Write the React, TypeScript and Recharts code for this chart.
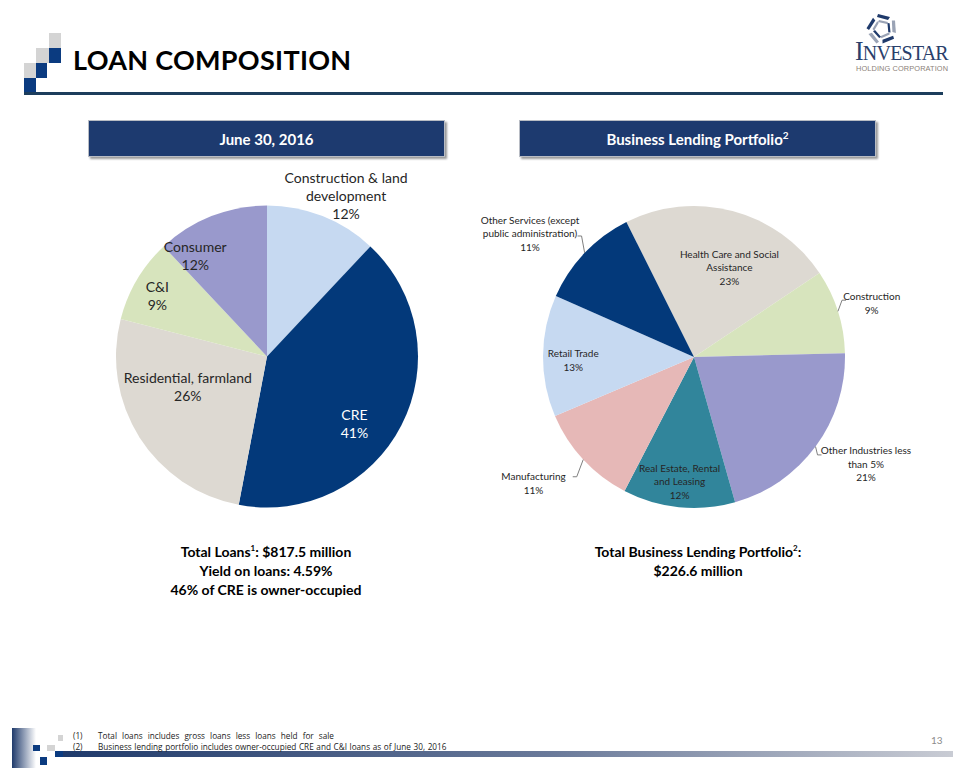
import React from "react";
import { PieChart, Pie, Cell } from "recharts";

// left pie: total loans by type, June 30, 2016
const loanCategories = ["Construction & land development", "CRE", "Residential, farmland", "C&I", "Consumer"];
const loanShares = [12, 41, 26, 9, 12];
const loanLabelLines = [["Construction & land", "development"], ["CRE"], ["Residential, farmland"], ["C&I"], ["Consumer"]];

// right pie: business lending portfolio by industry
const bizCategories = [
  "Health Care and Social Assistance",
  "Construction",
  "Other Industries less than 5%",
  "Real Estate, Rental and Leasing",
  "Manufacturing",
  "Retail Trade",
  "Other Services (except public administration)",
];
const bizShares = [23, 9, 21, 12, 11, 13, 11];
const bizLabelLines = [
  ["Health Care and Social", "Assistance"],
  ["Construction"],
  ["Other Industries less", "than 5%"],
  ["Real Estate, Rental", "and Leasing"],
  ["Manufacturing"],
  ["Retail Trade"],
  ["Other Services (except", "public administration)"],
];

const footnotes = [
  "Total loans includes gross loans less loans held for sale",
  "Business lending portfolio includes owner-occupied CRE and C&I loans as of June 30, 2016",
];

const loanData = loanCategories.map((name, i) => ({ name, value: loanShares[i] }));
const bizData = bizCategories.map((name, i) => ({ name, value: bizShares[i] }));

const NAVY = "#03397a";
const LOAN_COLORS = ["#c6d9f1", NAVY, "#ddd9d2", "#d7e4bd", "#9999cc"];
const LOAN_TEXT = ["#262626", "#ffffff", "#262626", "#262626", "#262626"];
const BIZ_COLORS = ["#ddd9d2", "#d7e4bd", "#9999cc", "#31859b", "#e6b8b7", "#c6d9f1", NAVY];

// label placement: [angle offset from slice middle, radius factor]
const loanPlace = [[-4.5, 1.19], [-10.5, 0.73], [-11.9, 0.56], [1.6, 0.83], [13.8, 0.82]];
const bizPlace = [[-6.7, 0.64], [-0.7, 1.23], [4.6, 1.34], [-0.8, 0.83], [-4.7, 1.35], [1.8, 0.8], [6.6, 1.36]];
// leader line ends for outside labels: [angle offset, radius factor]
const bizLeader: (number[] | null)[] = [null, [3.4, 1.05], [-2, 1.044], null, [2.8, 1.11], null, [-3.5, 1.094]];

const RAD = Math.PI / 180;
const FONT = "Lato, 'Open Sans', sans-serif";
const NO_MARGIN = { top: 0, right: 0, bottom: 0, left: 0 };

function makeLabel(
  lines: string[][],
  shares: number[],
  place: number[][],
  textColors: string[],
  fontSize: number,
  lineH: number,
  leaders?: (number[] | null)[]
) {
  return (props: any) => {
    const { cx, cy, midAngle, outerRadius, index } = props;
    const [dA, rf] = place[index];
    const a = (midAngle + dA) * RAD;
    const x = cx + outerRadius * rf * Math.cos(a);
    const y = cy - outerRadius * rf * Math.sin(a);
    const all = [...lines[index], `${shares[index]}%`];
    const y0 = y - ((all.length - 1) * lineH) / 2;
    let leader = null;
    const ld = leaders ? leaders[index] : null;
    if (ld) {
      const m = midAngle * RAD;
      const x1 = cx + outerRadius * Math.cos(m);
      const y1 = cy - outerRadius * Math.sin(m);
      const b = (midAngle + ld[0]) * RAD;
      const x2 = cx + outerRadius * ld[1] * Math.cos(b);
      const y2 = cy - outerRadius * ld[1] * Math.sin(b);
      const dir = Math.cos(m) > 0 ? 4 : -4;
      leader = (
        <polyline
          points={`${x1},${y1} ${x2},${y2} ${x2 + dir},${y2}`}
          fill="none"
          stroke="#7f7f7f"
          strokeWidth={1}
        />
      );
    }
    return (
      <g>
        {leader}
        {all.map((t, k) => (
          <text
            key={k}
            x={x}
            y={y0 + k * lineH}
            textAnchor="middle"
            dominantBaseline="central"
            fill={textColors[index] || "#262626"}
            fontSize={fontSize}
            fontFamily={FONT}
          >
            {t}
          </text>
        ))}
      </g>
    );
  };
}

const loanLabel = makeLabel(loanLabelLines, loanShares, loanPlace, LOAN_TEXT, 14, 18);
const bizLabel = makeLabel(bizLabelLines, bizShares, bizPlace, [], 10, 13.5, bizLeader);

function HeaderBox({ left, children }: { left: number; children: React.ReactNode }) {
  return (
    <div
      style={{
        position: "absolute",
        left,
        top: 120,
        width: 355,
        height: 35,
        background: "#1d3a6f",
        border: "1px solid #b8bcc4",
        boxShadow: "2px 2px 2px #9a9a9a",
        color: "#fff",
        fontWeight: 700,
        fontSize: 15,
        fontFamily: FONT,
        display: "flex",
        alignItems: "center",
        justifyContent: "center",
      }}
    >
      {children}
    </div>
  );
}

function Sq({ x, y, w, h, c }: { x: number; y: number; w: number; h: number; c: string }) {
  return <div style={{ position: "absolute", left: x, top: y, width: w, height: h, background: c }} />;
}

export default function App() {
  return (
    <div
      style={{
        position: "absolute",
        left: 0,
        top: 0,
        width: 960,
        height: 768,
        background: "#fff",
        fontFamily: FONT,
        overflow: "hidden",
      }}
    >
      {/* top-left squares */}
      <Sq x={49} y={33} w={12} h={15} c="#d4d4d4" />
      <Sq x={49} y={48} w={12} h={15} c="#0b3b80" />
      <Sq x={36} y={48} w={13} h={15} c="#d4d4d4" />
      <Sq x={36} y={63} w={11} h={15} c="#0b3b80" />
      <Sq x={24} y={63} w={12} h={15} c="#d4d4d4" />
      <Sq x={24} y={78} w={12} h={15} c="#0b3b80" />

      <div
        style={{
          position: "absolute",
          left: 73,
          top: 43,
          fontSize: 27,
          fontWeight: 700,
          color: "#000",
          letterSpacing: 0.3,
        }}
      >
        LOAN COMPOSITION
      </div>
      <div style={{ position: "absolute", left: 24, top: 92, width: 919, height: 3, background: "#1c3d5c" }} />

      {/* logo */}
      <svg style={{ position: "absolute", left: 864, top: 12 }} width={36} height={34} viewBox="-18 -17 36 34">
        {[0, 72, 144, 216, 288].map((r, i) => (
          <g key={i} transform={`rotate(${r})`}>
            <path d="M-4,-15 L8,-12 L6,-9 L-5,-12 Z" fill={i % 2 ? "#9aa3b5" : "#1f3a6b"} />
            <path d="M-3,-9 L6,-7 L5,-5 L-4,-7 Z" fill={i % 2 ? "#1f3a6b" : "#9aa3b5"} />
          </g>
        ))}
      </svg>
      <div
        style={{
          position: "absolute",
          left: 855,
          top: 39,
          fontFamily: "'Liberation Serif', serif",
          color: "#2a3f6b",
          fontSize: 26,
          letterSpacing: -0.8,
          lineHeight: "22px",
          height: 22,
          transform: "scale(1, 1.08)",
          transformOrigin: "left top",
        }}
      >
        I<span style={{ fontSize: 20 }}>NVESTAR</span>
      </div>
      <div
        style={{
          position: "absolute",
          left: 856,
          top: 64,
          fontFamily: "'Liberation Sans Narrow', 'Liberation Sans', sans-serif",
          color: "#8c8178",
          fontSize: 7.4,
          lineHeight: "9px",
          letterSpacing: 0.1,
        }}
      >
        HOLDING CORPORATION
      </div>

      <HeaderBox left={88}>June 30, 2016</HeaderBox>
      <HeaderBox left={519}>
        <span>
          Business Lending Portfolio<sup style={{ fontSize: 10 }}>2</sup>
        </span>
      </HeaderBox>

      <div style={{ position: "absolute", left: 67, top: 146 }}>
        <PieChart width={400} height={420} margin={NO_MARGIN}>
          <Pie
            data={loanData}
            dataKey="value"
            nameKey="name"
            cx={200}
            cy={210.5}
            outerRadius={151}
            startAngle={90}
            endAngle={-270}
            stroke="none"
            isAnimationActive={false}
            label={loanLabel}
            labelLine={false}
          >
            {loanData.map((d, i) => (
              <Cell key={d.name} fill={LOAN_COLORS[i]} />
            ))}
          </Pie>
        </PieChart>
      </div>

      <div style={{ position: "absolute", left: 463.5, top: 147 }}>
        <PieChart width={460} height={420} margin={NO_MARGIN}>
          <Pie
            data={bizData}
            dataKey="value"
            nameKey="name"
            cx={230}
            cy={210}
            outerRadius={151}
            startAngle={116.6}
            endAngle={-243.4}
            stroke="none"
            isAnimationActive={false}
            label={bizLabel}
            labelLine={false}
          >
            {bizData.map((d, i) => (
              <Cell key={d.name} fill={BIZ_COLORS[i]} />
            ))}
          </Pie>
        </PieChart>
      </div>

      <div
        style={{
          position: "absolute",
          left: 116,
          top: 539,
          width: 300,
          textAlign: "center",
          fontSize: 14,
          fontWeight: 700,
          lineHeight: "19px",
          color: "#000",
        }}
      >
        <div>
          Total Loans<sup style={{ fontSize: 8 }}>1</sup>: $817.5 million
        </div>
        <div>Yield on loans: 4.59%</div>
        <div>46% of CRE is owner-occupied</div>
      </div>
      <div
        style={{
          position: "absolute",
          left: 518,
          top: 539,
          width: 360,
          textAlign: "center",
          fontSize: 14,
          fontWeight: 700,
          lineHeight: "19px",
          color: "#000",
        }}
      >
        <div>
          Total Business Lending Portfolio<sup style={{ fontSize: 8 }}>2</sup>:
        </div>
        <div>$226.6 million</div>
      </div>

      {/* footer */}
      <div
        style={{
          position: "absolute",
          left: 12,
          top: 728,
          width: 24,
          height: 40,
          background: "linear-gradient(to right, #1f3a6b, #ffffff)",
        }}
      />
      <Sq x={33} y={745} w={7} h={6} c="#0b3b80" />
      <Sq x={47} y={745} w={8} h={6} c="#d4d4d4" />
      <Sq x={58} y={735} w={5} h={6} c="#d4d4d4" />
      <Sq x={55} y={751} w={8} h={6} c="#0b3b80" />
      <Sq x={40} y={757} w={7} h={8} c="#0b3b80" />
      <div
        style={{
          position: "absolute",
          left: 63,
          top: 751,
          width: 890,
          height: 6,
          background: "linear-gradient(to right, #1f3a6b 0%, #6a7a9a 55%, #c9ccd4 100%)",
        }}
      />
      {footnotes.map((f, i) => (
        <div
          key={i}
          style={{
            position: "absolute",
            left: 73,
            top: 730 + i * 10.5,
            fontSize: 8.2,
            color: "#222",
            fontFamily: "'Open Sans', sans-serif",
            whiteSpace: "nowrap",
            wordSpacing: i === 0 ? 3 : 0.5,
          }}
        >
          <span style={{ display: "inline-block", width: 25 }}>({i + 1})</span>
          {f}
        </div>
      ))}
      <div style={{ position: "absolute", left: 931, top: 734, fontSize: 10, color: "#8c8c8c" }}>13</div>
    </div>
  );
}
